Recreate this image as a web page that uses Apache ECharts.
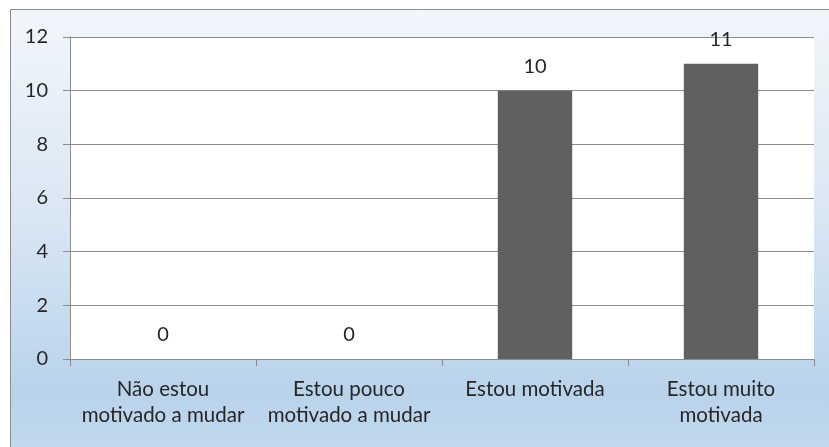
<!DOCTYPE html>
<html>
<head>
<meta charset="utf-8">
<script src="https://cdn.jsdelivr.net/npm/echarts@6/dist/echarts.min.js"></script>
<style>
html,body{margin:0;padding:0;background:#fff;}
#c{width:829px;height:447px;}
</style>
</head>
<body>
<div id="c"></div>
<script>
const categories = ['Não estou\nmotivado a mudar', 'Estou pouco\nmotivado a mudar', 'Estou motivada', 'Estou muito\nmotivada'];
const values = [0, 0, 10, 11];
const yTicks = [0, 2, 4, 6, 8, 10, 12];

const FONT = 'Lato, "Open Sans", sans-serif';
const chart = echarts.init(document.getElementById('c'), null, {renderer: 'canvas'});
chart.setOption({
  animation: false,
  backgroundColor: '#ffffff',
  graphic: [{
    type: 'rect',
    z: -10,
    shape: {x: 10.5, y: 9.5, width: 830, height: 450},
    style: {
      fill: new echarts.graphic.LinearGradient(0, 0, 0, 1, [
        {offset: 0, color: '#f2f6fb'},
        {offset: 0.45, color: '#dae7f4'},
        {offset: 0.85, color: '#b9d3eb'},
        {offset: 1, color: '#c3d9ee'}
      ]),
      stroke: '#8c8c8c',
      lineWidth: 1
    }
  }],
  grid: {
    left: 70, top: 37, right: 15, bottom: 88,
    show: true, backgroundColor: '#ffffff', borderWidth: 0
  },
  xAxis: {
    type: 'category',
    data: categories,
    axisLine: {show: true, lineStyle: {color: '#8c8c8c', width: 1}},
    axisTick: {show: true, length: 7, alignWithLabel: false, lineStyle: {color: '#8c8c8c'}},
    axisLabel: {fontFamily: FONT, fontSize: 20.5, color: '#262626', lineHeight: 26, margin: 17, interval: 0}
  },
  yAxis: {
    type: 'value',
    min: yTicks[0], max: yTicks[yTicks.length - 1], interval: 2,
    axisLine: {show: true, lineStyle: {color: '#8c8c8c', width: 1}},
    axisTick: {show: true, length: 7, lineStyle: {color: '#8c8c8c'}},
    axisLabel: {fontFamily: FONT, fontSize: 20, color: '#262626', margin: 22},
    splitLine: {show: true, lineStyle: {color: '#8c8c8c', width: 1}}
  },
  series: [{
    type: 'bar',
    data: values,
    barWidth: '40%',
    itemStyle: {color: '#606060'},
    label: {show: true, position: 'top', distance: 14, fontFamily: FONT, fontSize: 20, color: '#262626'}
  }]
});
</script>
</body>
</html>
